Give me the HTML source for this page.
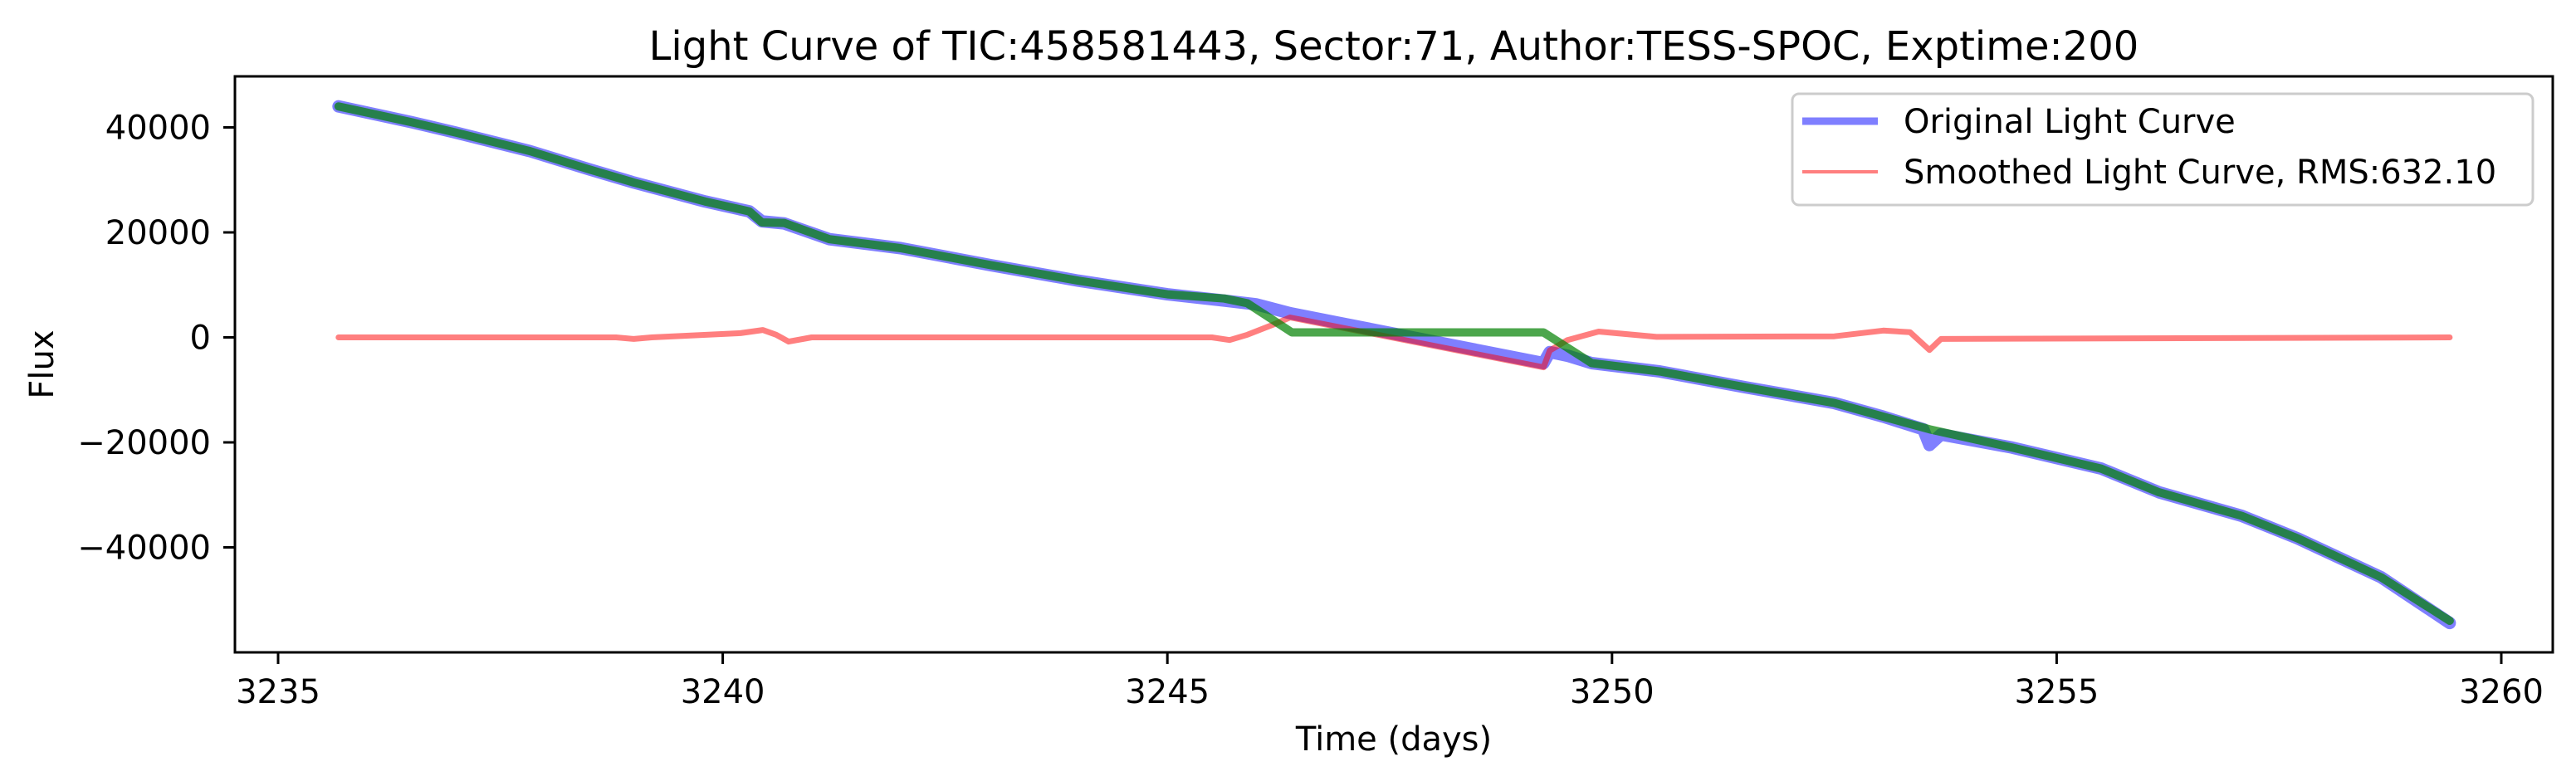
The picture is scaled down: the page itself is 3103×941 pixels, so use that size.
<!DOCTYPE html>
<html><head><meta charset="utf-8"><style>
html,body{margin:0;padding:0;background:#fff;}
svg{display:block;font-family:"DejaVu Sans","Liberation Sans",sans-serif;}
</style></head><body>
<svg id="chart" width="3103" height="941" viewBox="0 0 3103 941" xmlns="http://www.w3.org/2000/svg">
<rect width="3103" height="941" fill="#fff"/>
<text x="1679" y="72" font-size="48" text-anchor="middle">Light Curve of TIC:458581443, Sector:71, Author:TESS-SPOC, Exptime:200</text>
<g id="series"></g>
<rect x="283" y="92" width="2792" height="694" fill="none" stroke="#000" stroke-width="3"/>
<g id="xticks"></g>
<g id="yticks"></g>
<text x="1679" y="904" font-size="40" text-anchor="middle">Time (days)</text>
<text transform="translate(64,439) rotate(-90)" font-size="40" text-anchor="middle">Flux</text>
<g>
<rect x="2159" y="113" width="892" height="134" rx="8" fill="#fff" fill-opacity="0.8" stroke="#ccc" stroke-width="3"/>
<line x1="2171" y1="146" x2="2262" y2="146" stroke="rgba(0,0,255,0.5)" stroke-width="9"/>
<text x="2293" y="160" font-size="40">Original Light Curve</text>
<line x1="2171" y1="207" x2="2262" y2="207" stroke="rgba(255,0,0,0.5)" stroke-width="4"/>
<text x="2293" y="221" font-size="40">Smoothed Light Curve, RMS:632.10</text>
</g>
</svg>
<script>
const origTime = [3235.68,3236.5,3237.0,3237.83,3238.5,3239.0,3239.8,3240.3,3240.44,3240.69,3241.2,3242.0,3243.0,3244.0,3245.0,3245.64,3246.0,3246.38,3249.23,3249.30,3249.5,3249.77,3250.54,3251.5,3252.5,3253.05,3253.5,3253.57,3253.7,3254.5,3255.5,3256.15,3257.08,3257.71,3258.65,3259.42];
const origFlux = [44000,41000,39000,35500,32000,29500,25900,24000,22100,21700,18700,17000,13800,10800,8200,7000,6300,4600,-4900,-2800,-3500,-4900,-6500,-9500,-12500,-15100,-17500,-20500,-18500,-21000,-25000,-29500,-34000,-38300,-45700,-54400];
const trendTime = [3235.68,3236.5,3237.0,3237.83,3238.5,3239.0,3239.8,3240.3,3240.44,3240.69,3241.2,3242.0,3243.0,3244.0,3245.0,3245.64,3245.9,3246.40,3249.23,3249.77,3250.54,3251.5,3252.5,3253.05,3253.57,3254.5,3255.5,3256.15,3257.08,3257.71,3258.65,3259.42];
const trendFlux = [44000,41000,39000,35500,32000,29500,25900,24000,21900,21800,18700,17000,13800,10800,8200,7400,6500,950,950,-4900,-6500,-9500,-12500,-15100,-17500,-21000,-25000,-29500,-34000,-38300,-45700,-54000];
const residTime = [3235.68,3238.8,3239.0,3239.2,3240.2,3240.45,3240.6,3240.74,3241.0,3245.5,3245.7,3245.9,3246.2,3246.38,3249.23,3249.30,3249.5,3249.85,3250.5,3252.5,3253.05,3253.35,3253.57,3253.7,3259.42];
const residFlux = [0,0,-300,0,800,1400,500,-800,0,0,-500,500,2500,3800,-5700,-2500,-500,1100,100,200,1300,1000,-2400,-300,0];
const xTicks = [3235,3240,3245,3250,3255,3260];
const yTicks = [40000,20000,0,-20000,-40000];

const NS = "http://www.w3.org/2000/svg";
function xs(t){ return 335 + (t - 3235) * 107.12; }
function ys(f){ return 406.5 - f * (253 / 40000); }
function pts(T, F){ return T.map((t,i)=>xs(t).toFixed(1)+","+ys(F[i]).toFixed(1)).join(" "); }

const g = document.getElementById("series");
function poly(T, F, color, w, name){
  const p = document.createElementNS(NS, "polyline");
  p.setAttribute("points", pts(T, F));
  p.setAttribute("fill", "none");
  p.setAttribute("stroke", color);
  p.setAttribute("stroke-width", w);
  p.setAttribute("stroke-linejoin", "round");
  p.setAttribute("stroke-linecap", "round");
  
  
  g.appendChild(p);
}
poly(origTime, origFlux, "rgba(0,0,255,0.5)", 15, "original-light-curve");
poly(residTime, residFlux, "rgba(255,0,0,0.5)", 7, "smoothed-residual-curve");
poly(trendTime, trendFlux, "rgba(0,128,0,0.7)", 10, "trend-curve");

const xg = document.getElementById("xticks");
xTicks.forEach(v=>{
  const x = xs(v);
  const l = document.createElementNS(NS, "line");
  l.setAttribute("x1", x); l.setAttribute("x2", x);
  l.setAttribute("y1", 786); l.setAttribute("y2", 800);
  l.setAttribute("stroke", "#000"); l.setAttribute("stroke-width", 3);
  
  
  xg.appendChild(l);
  const t = document.createElementNS(NS, "text");
  t.setAttribute("x", x); t.setAttribute("y", 847);
  t.setAttribute("font-size", 40); t.setAttribute("text-anchor", "middle");
  t.textContent = String(v);
  
  
  xg.appendChild(t);
});
const yg = document.getElementById("yticks");
yTicks.forEach(v=>{
  const y = ys(v);
  const l = document.createElementNS(NS, "line");
  l.setAttribute("x1", 269); l.setAttribute("x2", 283);
  l.setAttribute("y1", y); l.setAttribute("y2", y);
  l.setAttribute("stroke", "#000"); l.setAttribute("stroke-width", 3);
  
  
  yg.appendChild(l);
  const t = document.createElementNS(NS, "text");
  t.setAttribute("x", 254); t.setAttribute("y", y + 14);
  t.setAttribute("font-size", 40); t.setAttribute("text-anchor", "end");
  t.textContent = v < 0 ? "\u2212" + Math.abs(v) : String(v);
  
  
  yg.appendChild(t);
});
</script>
</body></html>
